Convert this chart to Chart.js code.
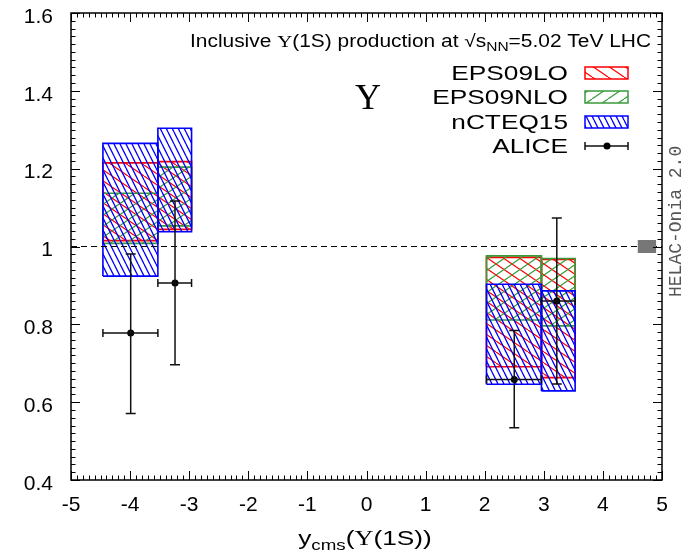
<!DOCTYPE html>
<html>
<head>
<meta charset="utf-8">
<script src="https://cdn.jsdelivr.net/npm/chart.js@4.4.1/dist/chart.umd.min.js"></script>
<style>
  html, body { margin: 0; padding: 0; background: #fff; }
  #wrap { width: 683px; height: 556px; }
</style>
</head>
<body>
<div id="wrap"><canvas id="chart" width="683" height="556"></canvas></div>
<script>
// rapidity bins (y_cms)
const binLo = [-4.46, -3.53, 2.03, 2.96];
const binHi = [-3.53, -2.96, 2.96, 3.53];

// nPDF bands: min / max per bin
const eps09loMin  = [1.015, 1.044, 0.691, 0.663];
const eps09loMax  = [1.215, 1.218, 0.972, 0.967];
const eps09nloMin = [1.008, 1.053, 0.811, 0.796];
const eps09nloMax = [1.137, 1.204, 0.976, 0.969];
const ncteqMin    = [0.924, 1.038, 0.646, 0.629];
const ncteqMax    = [1.265, 1.304, 0.903, 0.886];

// ALICE points with error bars
const aliceX    = [-3.99, -3.24, 2.50, 3.22];
const aliceY    = [0.778, 0.906, 0.658, 0.860];
const aliceLow  = [0.571, 0.696, 0.534, 0.647];
const aliceHigh = [0.981, 1.117, 0.784, 1.073];

// global normalisation box and reference line
const normX = [4.59, 4.90];
const normY = [0.983, 1.017];
const refY = [1];

const xTicks = [-5, -4, -3, -2, -1, 0, 1, 2, 3, 4, 5];
const xTickLabels = ['-5', '-4', '-3', '-2', '-1', '0', '1', '2', '3', '4', '5'];
const yTicks = [0.4, 0.6, 0.8, 1.0, 1.2, 1.4, 1.6];
const yTickLabels = ['0.4', '0.6', '0.8', '1', '1.2', '1.4', '1.6'];
const seriesNames = ['EPS09LO', 'EPS09NLO', 'nCTEQ15', 'ALICE'];

const RED = '#ff0000', GREEN = '#3a9a3a', BLUE = '#0000ff';
const SANS = '"Liberation Sans", Arial, sans-serif';
const SERIF = '"Liberation Serif", "Times New Roman", serif';
const WIDE = 1.25; // the original text is set wider than Liberation Sans

function hatch(color, w, h, dir, lw) {
  const c = document.createElement('canvas');
  c.width = w; c.height = h;
  const g = c.getContext('2d');
  g.strokeStyle = color; g.lineWidth = lw;
  g.beginPath();
  for (const dx of [-w, 0, w]) {
    if (dir === '\\') { g.moveTo(dx, 0); g.lineTo(dx + w, h); }
    else { g.moveTo(dx, h); g.lineTo(dx + w, 0); }
  }
  g.stroke();
  return g.createPattern(c, 'repeat');
}

const ctx0 = document.getElementById('chart').getContext('2d');
const redPat = hatch(RED, 16, 11, '\\', 1.2);
const greenPat = hatch(GREEN, 16, 11, '/', 1.2);
const bluePat = hatch(BLUE, 6, 12, '\\', 1.3);

function boxes(lo, hi, label, color, pat, order) {
  return lo.map((l, i) => ({
    type: 'line', label, order,
    data: [
      {x: binLo[i], y: l}, {x: binLo[i], y: hi[i]},
      {x: binHi[i], y: hi[i]}, {x: binHi[i], y: l}, {x: binLo[i], y: l}
    ],
    borderColor: color, borderWidth: 1.6, backgroundColor: pat,
    fill: 'shape', pointRadius: 0, tension: 0
  }));
}

// draws mixed-font text, stretched horizontally by sx (or fitted to width fitW)
function drawParts(ctx, parts, x, y, align, sx, fitW) {
  let w = 0;
  for (const p of parts) { ctx.font = p.font; w += ctx.measureText(p.t).width; }
  if (fitW) sx = fitW / w;
  const tw = w * sx;
  const x0 = align === 'right' ? x - tw : align === 'center' ? x - tw / 2 : x;
  ctx.save();
  ctx.translate(x0, y);
  ctx.scale(sx, 1);
  ctx.textAlign = 'left';
  ctx.textBaseline = 'alphabetic';
  let cx = 0;
  for (const p of parts) {
    ctx.font = p.font;
    ctx.fillText(p.t, cx, p.dy || 0);
    cx += ctx.measureText(p.t).width;
  }
  ctx.restore();
}

const errorBars = {
  id: 'errorBars',
  afterDatasetsDraw(chart) {
    const {ctx, scales: {x, y}} = chart;
    ctx.save();
    ctx.strokeStyle = '#111';
    ctx.lineWidth = 1.5;
    ctx.beginPath();
    aliceX.forEach((v, i) => {
      const px = x.getPixelForValue(v), py = y.getPixelForValue(aliceY[i]);
      const yl = y.getPixelForValue(aliceLow[i]), yh = y.getPixelForValue(aliceHigh[i]);
      const xl = x.getPixelForValue(binLo[i]), xh = x.getPixelForValue(binHi[i]);
      ctx.moveTo(px, yl); ctx.lineTo(px, yh);
      ctx.moveTo(px - 5, yl); ctx.lineTo(px + 5, yl);
      ctx.moveTo(px - 5, yh); ctx.lineTo(px + 5, yh);
      ctx.moveTo(xl, py); ctx.lineTo(xh, py);
      ctx.moveTo(xl, py - 4); ctx.lineTo(xl, py + 4);
      ctx.moveTo(xh, py - 4); ctx.lineTo(xh, py + 4);
    });
    ctx.stroke();
    ctx.restore();
  }
};

const decor = {
  id: 'decor',
  afterDraw(chart) {
    const {ctx, chartArea: a, scales: {x, y}} = chart;
    ctx.save();
    // frame + inward ticks
    ctx.strokeStyle = '#000';
    ctx.lineWidth = 1;
    ctx.beginPath();
    const xStep = (xTicks[1] - xTicks[0]) / 10;
    for (let k = 0; k <= (xTicks.length - 1) * 10; k++) {
      const px = Math.round(x.getPixelForValue(xTicks[0] + k * xStep)) + 0.5;
      const len = k % 10 === 0 ? 9 : 4.5;
      ctx.moveTo(px, a.bottom); ctx.lineTo(px, a.bottom - len);
      ctx.moveTo(px, a.top); ctx.lineTo(px, a.top + len);
    }
    const yStep = (yTicks[1] - yTicks[0]) / 10;
    for (let k = 0; k <= (yTicks.length - 1) * 10; k++) {
      const py = Math.round(y.getPixelForValue(yTicks[0] + k * yStep)) + 0.5;
      const len = k % 10 === 0 ? 9 : 4.5;
      ctx.moveTo(a.left, py); ctx.lineTo(a.left + len, py);
      ctx.moveTo(a.right, py); ctx.lineTo(a.right - len, py);
    }
    ctx.stroke();
    ctx.lineWidth = 1.5;
    ctx.strokeRect(a.left, a.top, a.right - a.left, a.bottom - a.top);

    ctx.fillStyle = '#000';
    // top caption
    const s = 17.5;
    drawParts(ctx, [
      {t: 'Inclusive ', font: `${s}px ${SANS}`},
      {t: 'Υ', font: `${s}px ${SERIF}`},
      {t: '(1S) production at ', font: `${s}px ${SANS}`},
      {t: '√s', font: `${s}px ${SANS}`},
      {t: 'NN', font: `${Math.round(s * 0.72)}px ${SANS}`, dy: 4},
      {t: '=5.02 TeV LHC', font: `${s}px ${SANS}`}
    ], 651, 47, 'right', 1, 461);

    // big Upsilon
    ctx.font = `36px ${SERIF}`;
    ctx.textAlign = 'center';
    ctx.fillText('Υ', 368, 109);

    // x axis title
    drawParts(ctx, [
      {t: 'y', font: `21px ${SANS}`},
      {t: 'cms', font: `15px ${SANS}`, dy: 5},
      {t: '(', font: `21px ${SANS}`},
      {t: 'Υ', font: `21px ${SERIF}`},
      {t: '(1S))', font: `21px ${SANS}`}
    ], 365, 545, 'center', WIDE);

    // legend
    const rows = [80, 104, 129, 153];
    const pats = [[RED, redPat], [GREEN, greenPat], [BLUE, bluePat]];
    seriesNames.forEach((n, i) =>
      drawParts(ctx, [{t: n, font: `21px ${SANS}`}], 568, rows[i], 'right', WIDE));
    pats.forEach(([c, p], i) => {
      const top = rows[i] - 13;
      ctx.fillStyle = p;
      ctx.fillRect(585, top, 43, 12);
      ctx.strokeStyle = c;
      ctx.lineWidth = 1.5;
      ctx.strokeRect(585, top, 43, 12);
    });
    const ly = rows[3] - 7;
    ctx.strokeStyle = '#111';
    ctx.lineWidth = 1.5;
    ctx.beginPath();
    ctx.moveTo(585, ly); ctx.lineTo(628, ly);
    ctx.moveTo(585, ly - 4); ctx.lineTo(585, ly + 4);
    ctx.moveTo(628, ly - 4); ctx.lineTo(628, ly + 4);
    ctx.stroke();
    ctx.fillStyle = '#000';
    ctx.beginPath();
    ctx.arc(607, ly, 3.5, 0, Math.PI * 2);
    ctx.fill();

    // HELAC-Onia tag
    ctx.save();
    ctx.translate(681, 297);
    ctx.rotate(-Math.PI / 2);
    ctx.font = '18px "Liberation Mono", "DejaVu Sans Mono", monospace';
    ctx.fillStyle = '#555';
    ctx.textAlign = 'left';
    ctx.fillText('HELAC-Onia 2.0', 0, 0);
    ctx.restore();

    ctx.restore();
  }
};

Chart.defaults.font.family = SANS;
Chart.defaults.color = '#000';

const datasets = [
  {
    type: 'scatter', label: 'ALICE', order: 0,
    data: aliceX.map((v, i) => ({x: v, y: aliceY[i]})),
    pointRadius: 3.5, pointBackgroundColor: '#000', pointBorderWidth: 0
  },
  {
    type: 'line', label: 'norm', order: 1,
    data: [{x: normX[0], y: normY[0]}, {x: normX[0], y: normY[1]}, {x: normX[1], y: normY[1]},
           {x: normX[1], y: normY[0]}, {x: normX[0], y: normY[0]}],
    borderWidth: 0, backgroundColor: '#777', fill: 'shape', pointRadius: 0
  },
  {
    type: 'line', label: 'ref', order: 2,
    data: [{x: xTicks[0], y: refY[0]}, {x: xTicks[xTicks.length - 1], y: refY[0]}],
    borderColor: '#000', borderWidth: 1, borderDash: [6, 4], pointRadius: 0, fill: false
  },
  ...boxes(ncteqMin, ncteqMax, seriesNames[2], BLUE, bluePat, 3),
  ...boxes(eps09nloMin, eps09nloMax, seriesNames[1], GREEN, greenPat, 4),
  ...boxes(eps09loMin, eps09loMax, seriesNames[0], RED, redPat, 5)
];

new Chart(ctx0, {
  type: 'scatter',
  data: { datasets },
  options: {
    responsive: false,
    animation: false,
    layout: { padding: { left: 0, top: 13, right: 21, bottom: 0 } },
    plugins: { legend: { display: false }, tooltip: { enabled: false } },
    scales: {
      x: {
        type: 'linear', min: xTicks[0], max: xTicks[xTicks.length - 1],
        // grid hidden; tickLength only spaces the labels from the axis
        grid: { display: false, drawTicks: true, tickLength: 13 },
        border: { display: false },
        afterBuildTicks: s => { s.ticks = xTicks.map(v => ({value: v})); },
        afterFit: s => { s.height = 76; },
        ticks: {
          padding: 0, maxRotation: 0, autoSkip: false,
          font: { size: 21 }, color: '#000',
          callback: (v, i) => xTickLabels[i]
        }
      },
      y: {
        type: 'linear', min: yTicks[0], max: yTicks[yTicks.length - 1],
        grid: { display: false, drawTicks: true, tickLength: 18 },
        border: { display: false },
        afterBuildTicks: s => { s.ticks = yTicks.map(v => ({value: v})); },
        afterFit: s => { s.width = 71; },
        ticks: {
          padding: 0, autoSkip: false, labelOffset: 4,
          font: { size: 21 }, color: '#000',
          callback: (v, i) => yTickLabels[i]
        }
      }
    }
  },
  plugins: [errorBars, decor]
});
</script>
</body>
</html>
